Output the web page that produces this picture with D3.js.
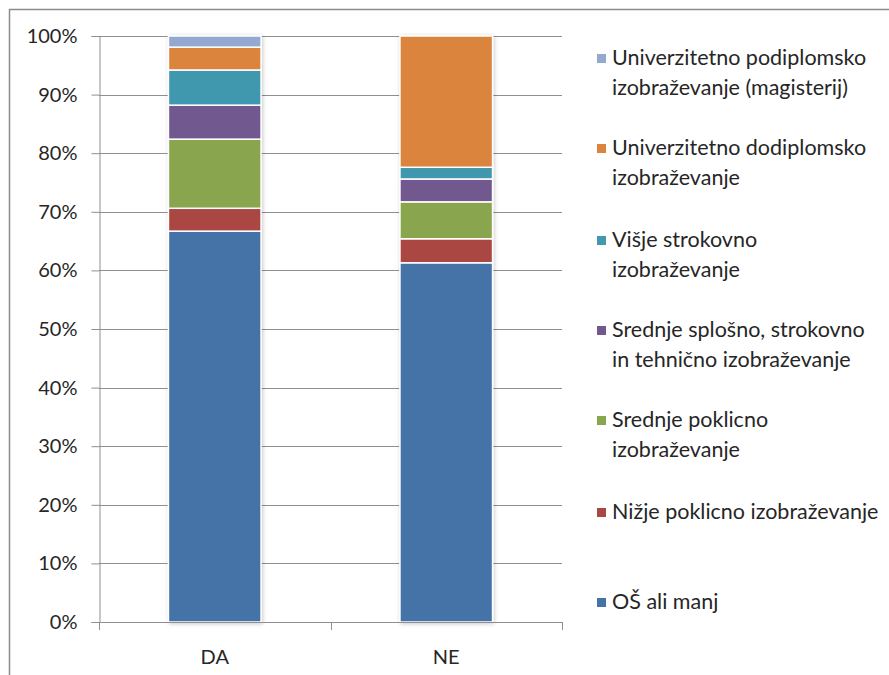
<!DOCTYPE html>
<html>
<head>
<meta charset="utf-8">
<script src="https://cdn.jsdelivr.net/npm/d3@7"></script>
<style>
  body { margin: 0; background: #fff; }
  text { font-family: Lato, "Noto Sans", sans-serif; fill: #262626; }
</style>
</head>
<body>
<script>
// categories on the x axis
var categories = ["DA", "NE"];

// series, bottom to top of the stack
var seriesNames = [
  "OŠ ali manj",
  "Nižje poklicno izobraževanje",
  "Srednje poklicno izobraževanje",
  "Srednje splošno, strokovno in tehnično izobraževanje",
  "Višje strokovno izobraževanje",
  "Univerzitetno dodiplomsko izobraževanje",
  "Univerzitetno podiplomsko izobraževanje (magisterij)"
];

// share in percent, one value per category
var osAliManj      = [66.7, 61.3];
var nizjePoklicno  = [3.9, 4.1];
var srednjePoklic  = [11.8, 6.3];
var srednjeSplosno = [5.8, 3.9];
var visjeStrokovno = [6.0, 2.0];
var uniDodiplomsko = [3.9, 22.4];
var uniPodiplomsko = [1.9, 0.0];

var seriesValues = [osAliManj, nizjePoklicno, srednjePoklic, srednjeSplosno,
                    visjeStrokovno, uniDodiplomsko, uniPodiplomsko];

// legend text, split into lines like the original
var legendLines = [
  ["OŠ ali manj"],
  ["Nižje poklicno izobraževanje"],
  ["Srednje poklicno", "izobraževanje"],
  ["Srednje splošno, strokovno", "in tehnično izobraževanje"],
  ["Višje strokovno", "izobraževanje"],
  ["Univerzitetno dodiplomsko", "izobraževanje"],
  ["Univerzitetno podiplomsko", "izobraževanje (magisterij)"]
];

var yTicks = [0, 10, 20, 30, 40, 50, 60, 70, 80, 90, 100];

var colors = ["#4572A7", "#AA4643", "#89A54E", "#71588F", "#4198AF", "#DB843D", "#93A9CF"];

var width = 889, height = 675;

var svg = d3.select("body").append("svg").attr("width", width).attr("height", height);

// shadow under the bars
var defs = svg.append("defs");
defs.append("filter").attr("id", "shadow")
    .attr("x", "-20%").attr("y", "-5%").attr("width", "140%").attr("height", "110%")
  .append("feDropShadow")
    .attr("dx", 1).attr("dy", 1).attr("stdDeviation", 2)
    .attr("flood-color", "#000").attr("flood-opacity", 0.22);

// outer frame
svg.append("rect")
    .attr("x", 9.5).attr("y", 9.5).attr("width", 900).attr("height", 700)
    .attr("fill", "none").attr("stroke", "#8c8c8c").attr("stroke-width", 1.5);

var plotLeft = 99, plotRight = 562, plotTop = 36, plotBottom = 622;

var x = d3.scaleBand().domain(categories).range([plotLeft, plotRight]).paddingInner(0.6).paddingOuter(0.3);
var y = d3.scaleLinear().domain([0, 100]).range([plotBottom, plotTop]);

// gridlines
svg.append("g").selectAll("line").data(yTicks.slice(1)).enter()
  .append("line")
    .attr("x1", plotLeft).attr("x2", plotRight)
    .attr("y1", d => Math.round(y(d)) + 0.5).attr("y2", d => Math.round(y(d)) + 0.5)
    .attr("stroke", "#8f8f8f").attr("stroke-width", 1);

// stack data
var rows = categories.map((c, i) => {
  var r = {cat: c};
  seriesNames.forEach((s, j) => { r[s] = seriesValues[j][i]; });
  return r;
});
var stacked = d3.stack().keys(seriesNames)(rows);

svg.append("g").attr("filter", "url(#shadow)")
  .selectAll("g").data(stacked).enter()
  .append("g").attr("fill", (d, i) => colors[i])
  .selectAll("rect").data(d => d.filter(p => p[1] - p[0] > 0)).enter()
  .append("rect")
    .attr("x", d => x(d.data.cat))
    .attr("y", d => y(d[1]))
    .attr("width", x.bandwidth())
    .attr("height", d => y(d[0]) - y(d[1]))
    .attr("stroke", "#fff").attr("stroke-width", 1.5);

// y axis
var yAxis = svg.append("g").attr("transform", "translate(" + (plotLeft + 0.5) + ",0)")
  .call(d3.axisLeft(y).tickValues(yTicks).tickSize(8).tickPadding(14).tickFormat(d => d + "%"));
yAxis.select(".domain").attr("stroke", "#8f8f8f");
yAxis.selectAll(".tick line").attr("stroke", "#8f8f8f");
yAxis.selectAll("text").style("font-size", "20px").style("font-family", "Lato, sans-serif").attr("fill", "#262626");

// x axis line and separator ticks
var xg = svg.append("g");
xg.append("line").attr("x1", plotLeft).attr("x2", plotRight)
    .attr("y1", plotBottom + 0.5).attr("y2", plotBottom + 0.5).attr("stroke", "#8f8f8f");
var sepTicks = [plotLeft, (x("DA") + x.bandwidth() + x("NE")) / 2, plotRight];
xg.selectAll("line.sep").data(sepTicks).enter().append("line")
    .attr("class", "sep")
    .attr("x1", d => Math.round(d) + 0.5).attr("x2", d => Math.round(d) + 0.5)
    .attr("y1", plotBottom).attr("y2", plotBottom + 8).attr("stroke", "#8f8f8f");
xg.selectAll("text").data(categories).enter().append("text")
    .attr("x", d => x(d) + x.bandwidth() / 2)
    .attr("y", 664)
    .attr("text-anchor", "middle")
    .style("font-size", "20px")
    .text(d => d);

// legend, top entry first
var legendTop = [58, 148, 240, 330, 420, 512, 602];
var legend = svg.append("g").selectAll("g").data(legendLines.slice().reverse()).enter()
  .append("g")
    .attr("transform", (d, i) => "translate(597," + legendTop[i] + ")");
legend.append("rect")
    .attr("x", 0).attr("y", -4).attr("width", 9).attr("height", 9)
    .attr("fill", (d, i) => colors[colors.length - 1 - i]);
legend.each(function(lines) {
  var g = d3.select(this);
  lines.forEach((t, k) => {
    g.append("text")
      .attr("x", 15).attr("y", k * 30 + 7)
      .style("font-size", "21.5px")
      .text(t);
  });
});
</script>
</body>
</html>
